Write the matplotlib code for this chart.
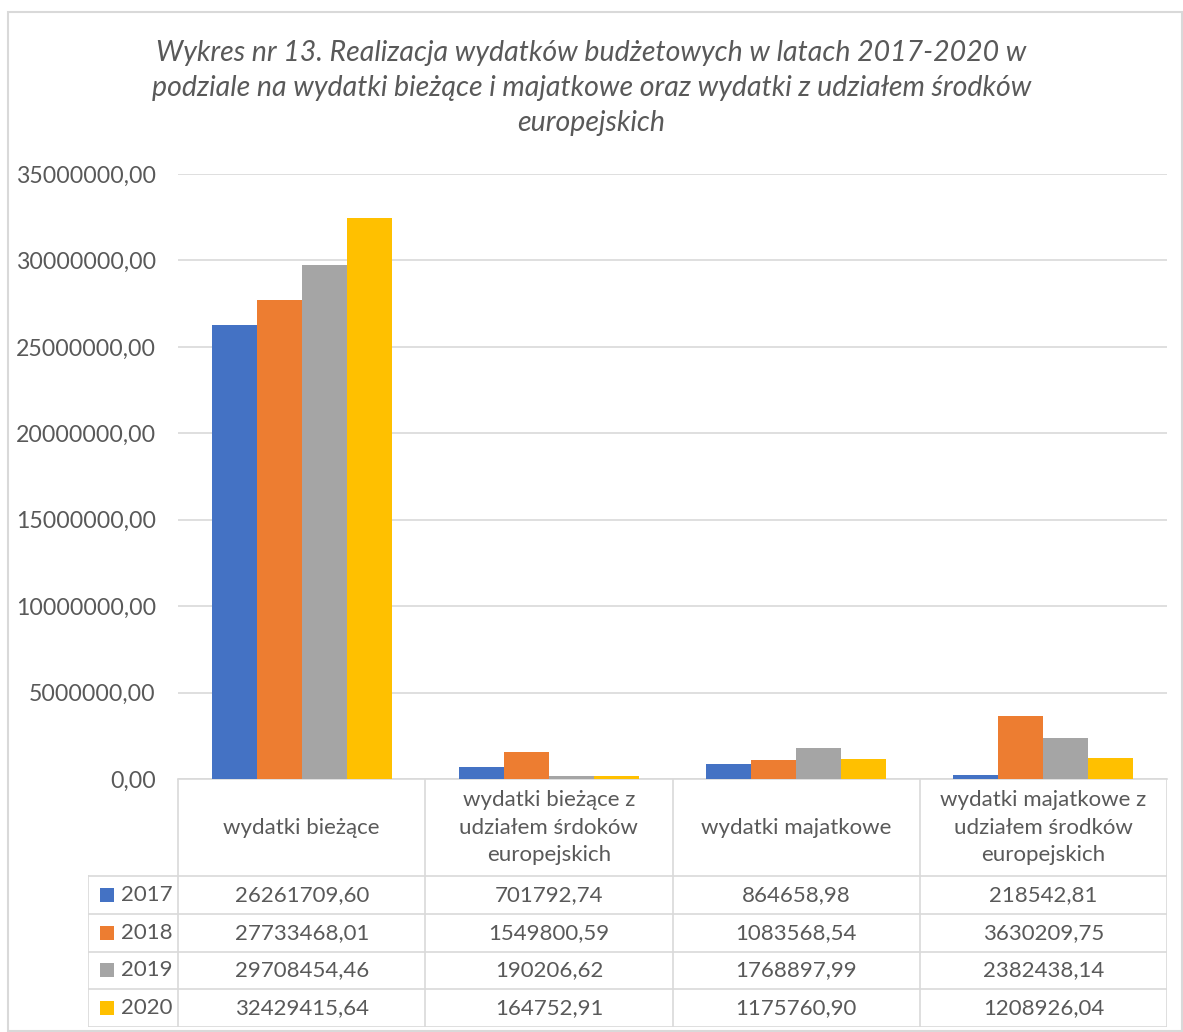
import numpy as np
import matplotlib.pyplot as plt
from matplotlib.patches import Rectangle

plt.rcParams['font.family'] = ['Lato', 'DejaVu Sans']

categories = ['wydatki bieżące',
              'wydatki bieżące z\nudziałem śrdoków\neuropejskich',
              'wydatki majatkowe',
              'wydatki majatkowe z\nudziałem środków\neuropejskich']
years = ['2017', '2018', '2019', '2020']
v2017 = [26261709.60, 701792.74, 864658.98, 218542.81]
v2018 = [27733468.01, 1549800.59, 1083568.54, 3630209.75]
v2019 = [29708454.46, 190206.62, 1768897.99, 2382438.14]
v2020 = [32429415.64, 164752.91, 1175760.90, 1208926.04]
series = [v2017, v2018, v2019, v2020]
colors = ['#4472C4', '#ED7D31', '#A5A5A5', '#FFC000']

W, H = 1183, 1032
fig = plt.figure(figsize=(W / 100, H / 100), dpi=100)
txt = '#595959'
grid_c = '#D9D9D9'

def fx(px):
    return px / W

def fy(py):
    return 1 - py / H

# outer chart frame
fig.patches.append(Rectangle((fx(8), fy(1031)), fx(1182) - fx(8), fy(12) - fy(1031),
                             transform=fig.transFigure, fill=False,
                             edgecolor=grid_c, linewidth=1.5))

# bar area
ax = fig.add_axes([fx(178), fy(779), fx(1167) - fx(178), fy(174) - fy(779)])
x = np.arange(len(categories))
bw = 0.182
for i, (vals, c) in enumerate(zip(series, colors)):
    ax.bar(x + (i - 1.5) * bw, vals, bw, color=c, label=years[i], zorder=3)

ax.set_xlim(-0.5, len(categories) - 0.5)
ax.set_ylim(0, 35000000)
ticks = np.arange(0, 35000001, 5000000)
ax.set_yticks(ticks)
ax.set_yticklabels([f'{t:.2f}'.replace('.', ',') for t in ticks],
                   fontsize=16.7, color=txt)
ax.tick_params(axis='y', length=0, pad=16)
ax.set_xticks([])
ax.grid(axis='y', color=grid_c, linewidth=1.2, zorder=0)
for s in ['top', 'right', 'left']:
    ax.spines[s].set_visible(False)
ax.spines['bottom'].set_color(grid_c)
ax.spines['bottom'].set_linewidth(1.2)

fig.text(0.5, fy(88), 'Wykres nr 13. Realizacja wydatków budżetowych w latach 2017-2020 w\n'
         'podziale na wydatki bieżące i majatkowe oraz wydatki z udziałem środków\n'
         'europejskich', ha='center', va='center', fontsize=20.5, style='italic',
         color=txt, linespacing=1.45)

# data table below the bars, sharing the category scale
leg_w = 90 / 247
x0 = -0.5 - leg_w
tab = fig.add_axes([fx(88), fy(1027), fx(1167) - fx(88), fy(779) - fy(1027)])
tab.set_xlim(x0, len(categories) - 0.5)
tab.set_ylim(248, 0)
tab.axis('off')
hdr = 97
rh = (248 - hdr) / 4
lw = 1.2
for xb in np.arange(-0.5, len(categories), 1.0):
    tab.plot([xb, xb], [0, 248], color=grid_c, lw=lw)
tab.plot([x0, x0], [hdr, 248], color=grid_c, lw=lw)
for r in range(5):
    yb = hdr + r * rh
    tab.plot([x0, len(categories) - 0.5], [yb, yb], color=grid_c, lw=lw)

for j, cat in enumerate(categories):
    tab.text(j, hdr / 2, cat, ha='center', va='center', fontsize=16,
             color=txt, linespacing=1.45)

for i, vals in enumerate(series):
    yc = hdr + (i + 0.5) * rh
    tab.add_patch(Rectangle((x0 + 12 / 247, yc - 7), 14 / 247, 14,
                            color=colors[i], lw=0))
    tab.text(x0 + 33 / 247, yc, years[i], ha='left', va='center',
             fontsize=16, color=txt)
    for j, v in enumerate(vals):
        tab.text(j, yc, f'{v:.2f}'.replace('.', ','), ha='center', va='center',
                 fontsize=16, color=txt)

fig.savefig('out.png', dpi=100)
